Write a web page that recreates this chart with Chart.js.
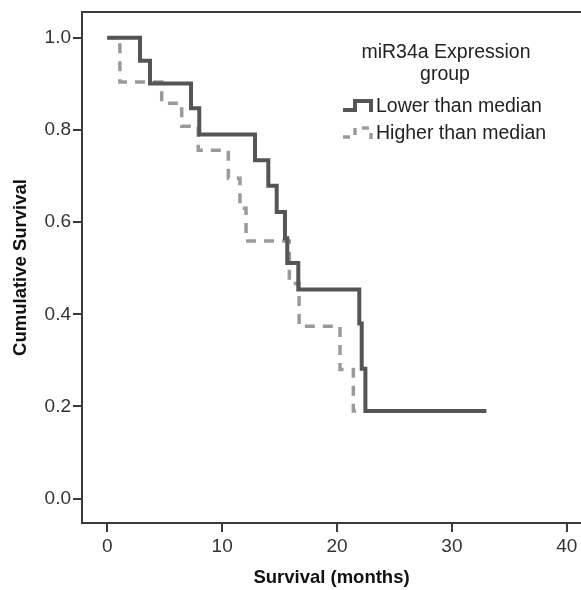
<!DOCTYPE html>
<html><head><meta charset="utf-8">
<script src="https://cdn.jsdelivr.net/npm/chart.js@4.4.1/dist/chart.umd.min.js"></script>
<style>html,body{margin:0;padding:0;background:#fff;overflow:hidden}#wrap{width:581px;height:590px;}</style>
</head><body><div id="wrap"><canvas id="c" width="581" height="590"></canvas></div>
<script>
const legendTitle = ['miR34a Expression', 'group'];
const seriesNames = ['Lower than median', 'Higher than median'];
const lowerMonths   = [0, 2.85, 3.72, 7.29, 8.01, 12.86, 14.02, 14.75, 15.47, 15.67, 16.63, 21.94, 22.15, 22.47, 33.0];
const lowerSurvival = [1.0, 0.950, 0.901, 0.847, 0.790, 0.734, 0.679, 0.622, 0.565, 0.511, 0.454, 0.380, 0.282, 0.190, 0.190];
const higherMonths   = [0, 1.1, 4.74, 6.48, 7.92, 10.54, 11.55, 12.08, 15.85, 16.7, 20.26, 21.42, 23.1];
const higherSurvival = [1.0, 0.904, 0.858, 0.808, 0.756, 0.695, 0.630, 0.559, 0.467, 0.374, 0.280, 0.190, 0.190];
const xTicks = [0, 10, 20, 30, 40];
const yTicks = [0, 0.2, 0.4, 0.6, 0.8, 1.0];
const xTitle = 'Survival (months)';
const yTitle = 'Cumulative Survival';

const FONT = '"Liberation Sans", Arial, sans-serif';
const toPts = (xs, ys) => xs.map((x, i) => ({x: x, y: ys[i]}));

const legendPlugin = {
  id: 'kmLegend',
  afterDraw(chart) {
    const ctx = chart.ctx;
    const area = chart.chartArea;
    ctx.save();
    // top frame line
    ctx.strokeStyle = '#3a3a3a'; ctx.lineWidth = 2;
    ctx.beginPath(); ctx.moveTo(area.left - 1, area.top); ctx.lineTo(area.right, area.top); ctx.stroke();
    ctx.font = '19.5px ' + FONT;
    ctx.fillStyle = '#222';
    ctx.textAlign = 'center'; ctx.textBaseline = 'middle';
    ctx.fillText(legendTitle[0], 446, 53);
    ctx.fillText(legendTitle[1], 445, 75);
    chart.data.datasets.forEach((ds, i) => {
      const y = 107 + i * 27;
      ctx.strokeStyle = ds.borderColor; ctx.lineWidth = ds.borderWidth;
      ctx.setLineDash(ds.borderDash ? [7, 7] : []);
      ctx.beginPath();
      ctx.moveTo(343, y + 3); ctx.lineTo(355, y + 3); ctx.lineTo(355, y - 6);
      ctx.lineTo(371, y - 6); ctx.lineTo(371, y + 5);
      ctx.stroke();
      ctx.setLineDash([]);
      ctx.textAlign = 'left';
      ctx.fillStyle = '#222';
      ctx.fillText(ds.label, 376, y);
    });
    ctx.restore();
  }
};

new Chart(document.getElementById('c'), {
  type: 'line',
  data: {
    datasets: [
      { label: seriesNames[0], data: toPts(lowerMonths, lowerSurvival), stepped: 'before',
        borderColor: '#555555', borderWidth: 4, pointRadius: 0, fill: false },
      { label: seriesNames[1], data: toPts(higherMonths, higherSurvival), stepped: 'before',
        borderColor: '#9a9a9a', borderWidth: 3.5, borderDash: [10, 8], pointRadius: 0, fill: false }
    ]
  },
  options: {
    responsive: false, animation: false, devicePixelRatio: 1,
    layout: { padding: { top: 12, left: 0, right: 0, bottom: 0 } },
    plugins: { legend: { display: false }, tooltip: { enabled: false } },
    scales: {
      x: {
        type: 'linear', min: -2.2, max: 41.24,
        afterBuildTicks: s => { s.ticks = xTicks.map(v => ({ value: v })); },
        afterFit: s => { s.height = 67; s.paddingLeft = 0; s.paddingRight = 0; },
        ticks: { font: { size: 19, family: FONT }, color: '#333', padding: 3, callback: v => String(v), maxRotation: 0 },
        grid: { drawOnChartArea: false, drawTicks: true, tickLength: 9, color: '#3a3a3a', lineWidth: 2 },
        border: { display: true, color: '#3a3a3a', width: 2 },
        title: { display: true, text: xTitle, color: '#111', font: { size: 18.5, weight: 'bold', family: FONT }, padding: { top: 0, bottom: 1 } }
      },
      y: {
        type: 'linear', min: -0.053, max: 1.056,
        afterBuildTicks: s => { s.ticks = yTicks.map(v => ({ value: v })); },
        afterFit: s => { s.width = 82; s.paddingTop = 0; s.paddingBottom = 0; },
        ticks: { font: { size: 19, family: FONT }, color: '#333', padding: 2, callback: v => Number(v).toFixed(1) },
        grid: { drawOnChartArea: false, drawTicks: true, tickLength: 9, color: '#3a3a3a', lineWidth: 2 },
        border: { display: true, color: '#3a3a3a', width: 2 },
        title: { display: true, text: yTitle, color: '#111', font: { size: 18.5, weight: 'bold', family: FONT }, padding: { top: 9.6, bottom: 0 } }
      }
    }
  },
  plugins: [legendPlugin]
});
</script>
</body></html>
